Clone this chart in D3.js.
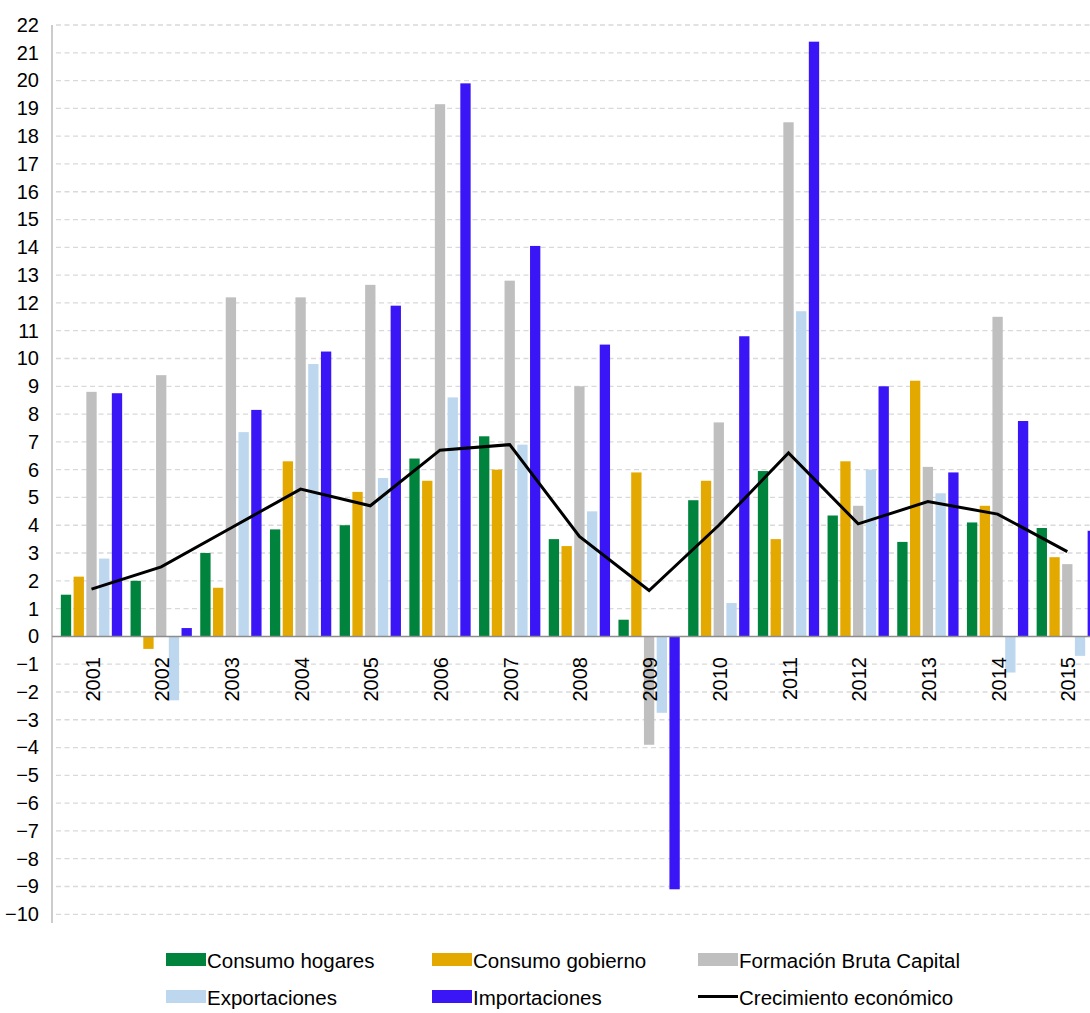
<!DOCTYPE html>
<html>
<head>
<meta charset="utf-8">
<script src="https://cdn.jsdelivr.net/npm/d3@7"></script>
<style>
  body { margin: 0; background: #fff; }
  text { font-family: "Liberation Sans", Arial, sans-serif; fill: #000; }
</style>
</head>
<body>
<div class="chart"></div>
<script>
var WIDTH = 1090;
var HEIGHT = 1013;

var years = ['2001','2002','2003','2004','2005','2006','2007','2008','2009','2010','2011','2012','2013','2014','2015'];
var seriesNames = ['Consumo hogares', 'Consumo gobierno', 'Formación Bruta Capital', 'Exportaciones', 'Importaciones'];
var lineName = 'Crecimiento económico';

var hogares     = [1.5, 2.0, 3.0, 3.85, 4.0, 6.4, 7.2, 3.5, 0.6, 4.9, 5.95, 4.35, 3.4, 4.1, 3.9];
var gobierno    = [2.15, -0.45, 1.75, 6.3, 5.2, 5.6, 6.0, 3.25, 5.9, 5.6, 3.5, 6.3, 9.2, 4.7, 2.85];
var formacion   = [8.8, 9.4, 12.2, 12.2, 12.65, 19.15, 12.8, 9.0, -3.9, 7.7, 18.5, 4.7, 6.1, 11.5, 2.6];
var exportacion = [2.8, -2.3, 7.35, 9.8, 5.7, 8.6, 6.9, 4.5, -2.75, 1.2, 11.7, 6.0, 5.15, -1.3, -0.7];
var importacion = [8.75, 0.3, 8.15, 10.25, 11.9, 19.9, 14.05, 10.5, -9.1, 10.8, 21.4, 9.0, 5.9, 7.75, 3.8];
var crecimiento = [1.7, 2.5, 3.9, 5.3, 4.7, 6.7, 6.9, 3.6, 1.65, 4.0, 6.6, 4.05, 4.85, 4.4, 3.05];

var yTicks = d3.range(-10, 23);

var colors = ['#00843d', '#e3a900', '#bfbfbf', '#bdd7ee', '#3a16f7'];
var allSeries = [hogares, gobierno, formacion, exportacion, importacion];

var translate = function (x, y) {
  return 'translate(' + x + ',' + y + ')';
};

var loadChart = function() {
  var xScale = d3.scaleBand()
      .domain(years)
      .range([56.65, 56.65 + 69.7 * years.length])
      .padding(0);

  var inner = d3.scaleBand()
      .domain(seriesNames)
      .range([-30.65, 30.65])
      .paddingInner(0.19);

  var yScale = d3.scaleLinear()
      .domain([-10, 22])
      .range([914.3, 25]);

  var cx = function(i) { return xScale(years[i]) + xScale.bandwidth() / 2; };

  var svg = d3.select('.chart').append('svg')
      .attr('width', WIDTH)
      .attr('height', HEIGHT);

  // gridlines
  svg.append('g').selectAll('line')
      .data(yTicks.filter(function(d) { return d !== 0; }))
      .enter().append('line')
      .attr('x1', 56).attr('x2', WIDTH)
      .attr('y1', function(d) { return yScale(d); })
      .attr('y2', function(d) { return yScale(d); })
      .attr('stroke', '#d9d9d9')
      .attr('stroke-width', 1.3)
      .attr('stroke-dasharray', '5,3.5');

  // y axis
  var yAxis = d3.axisLeft(yScale).tickValues(yTicks).tickSize(0).tickPadding(13);
  var yg = svg.append('g')
      .attr('transform', translate(52, 0))
      .call(yAxis);
  yg.select('.domain').remove();
  yg.selectAll('text')
      .style('font-size', '20px')
      .attr('font-family', null);
  svg.append('line')
      .attr('x1', 52).attr('x2', 52)
      .attr('y1', 25).attr('y2', 923)
      .attr('stroke', '#bfbfbf')
      .attr('stroke-width', 1.6);

  // bars
  var barGroup = svg.append('g');
  allSeries.forEach(function(values, s) {
    barGroup.selectAll('.bar-' + s)
        .data(values)
        .enter().append('rect')
        .attr('class', 'bar-' + s)
        .attr('x', function(d, i) { return cx(i) + inner(seriesNames[s]); })
        .attr('width', inner.bandwidth())
        .attr('y', function(d) { return yScale(Math.max(0, d)); })
        .attr('height', function(d) { return Math.abs(yScale(d) - yScale(0)); })
        .attr('fill', colors[s]);
  });

  // zero line
  svg.append('line')
      .attr('x1', 52).attr('x2', WIDTH)
      .attr('y1', yScale(0)).attr('y2', yScale(0))
      .attr('stroke', '#8c8c8c')
      .attr('stroke-width', 1.5);

  // x labels
  svg.append('g').selectAll('text')
      .data(years)
      .enter().append('text')
      .attr('transform', function(d, i) { return translate(cx(i) + 1, 657) + ' rotate(-90)'; })
      .attr('text-anchor', 'end')
      .attr('dominant-baseline', 'central')
      .style('font-size', '20px')
      .text(function(d) { return d; });

  // growth line
  var growthLine = d3.line()
      .x(function(d, i) { return cx(i); })
      .y(function(d) { return yScale(d); });

  svg.append('path')
      .datum(crecimiento)
      .attr('d', growthLine)
      .attr('fill', 'none')
      .attr('stroke', '#000')
      .attr('stroke-width', 3)
      .attr('stroke-linejoin', 'miter');

  // legend
  var legendItems = [
    {name: seriesNames[0], color: colors[0], type: 'rect'},
    {name: seriesNames[1], color: colors[1], type: 'rect'},
    {name: seriesNames[2], color: colors[2], type: 'rect'},
    {name: seriesNames[3], color: colors[3], type: 'rect'},
    {name: seriesNames[4], color: colors[4], type: 'rect'},
    {name: lineName, color: '#000', type: 'line'}
  ];
  var legend = svg.append('g');
  var item = legend.selectAll('g')
      .data(legendItems)
      .enter().append('g')
      .attr('transform', function(d, i) {
        return translate(166 + (i % 3) * 266, 953 + Math.floor(i / 3) * 37);
      });
  item.filter(function(d) { return d.type === 'rect'; })
      .append('rect')
      .attr('width', 40).attr('height', 13)
      .attr('fill', function(d) { return d.color; });
  item.filter(function(d) { return d.type === 'line'; })
      .append('line')
      .attr('x1', 0).attr('x2', 40)
      .attr('y1', 6.5).attr('y2', 6.5)
      .attr('stroke', '#000')
      .attr('stroke-width', 3);
  item.append('text')
      .attr('x', 41)
      .attr('y', 15)
      .style('font-size', '20.5px')
      .text(function(d) { return d.name; });
};

window.onload = loadChart;
</script>
</body>
</html>
